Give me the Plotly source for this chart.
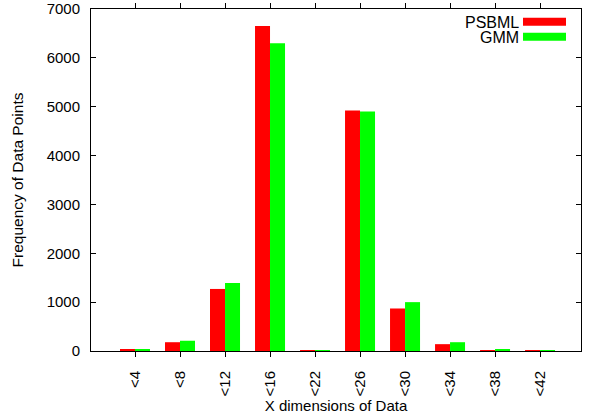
import plotly.graph_objects as go

categories = ["<4", "<8", "<12", "<16", "<22", "<26", "<30", "<34", "<38", "<42"]
psbml = [30, 180, 1270, 6650, 10, 4920, 870, 140, 20, 10]
gmm = [40, 210, 1390, 6300, 10, 4900, 1000, 180, 30, 10]
y_ticks = [0, 1000, 2000, 3000, 4000, 5000, 6000, 7000]

xpos = list(range(len(categories)))
FONT = "Liberation Sans"

fig = go.Figure()
fig.add_trace(go.Bar(x=xpos, y=psbml, name="PSBML", marker=dict(color="#ff0000", line=dict(width=0)), showlegend=False))
fig.add_trace(go.Bar(x=xpos, y=gmm, name="GMM", marker=dict(color="#00ff00", line=dict(width=0)), showlegend=False))

# Legend drawn gnuplot-style (text left, swatch right)
leg_items = [("PSBML", "#ff0000"), ("GMM", "#00ff00")]
for i, (name, col) in enumerate(leg_items):
    yc = 1 - (21.8 + 15 * i - 9) / 342.0
    fig.add_annotation(xref="paper", yref="paper", x=(521 - 91) / 490.0, y=yc, text=name,
                       showarrow=False, xanchor="right", yanchor="middle",
                       height=14, valign="middle",
                       font=dict(family=FONT, size=16, color="black"))
    fig.add_shape(type="rect", xref="paper", yref="paper",
                  x0=(523 - 91) / 490.0, x1=(566 - 91) / 490.0,
                  y0=yc - 4 / 342.0, y1=yc + 4 / 342.0,
                  fillcolor=col, line=dict(width=0))

fig.update_layout(
    width=592, height=419,
    margin=dict(l=91, r=11, t=9, b=68, autoexpand=False),
    paper_bgcolor="white", plot_bgcolor="white",
    barmode="group", bargap=1/3, bargroupgap=0,
    font=dict(family=FONT, size=15, color="black"),
    xaxis=dict(
        range=[-0.978, 9.91], tickmode="array", tickvals=xpos, ticktext=categories,
        tickangle=-90, ticks="outside", ticklen=5, tickcolor="black", tickwidth=1,
        showline=True, linecolor="black", linewidth=1, mirror="ticks",
        showgrid=False, zeroline=False, automargin=False,
        title=dict(text="X dimensions of Data", standoff=5,
                   font=dict(family=FONT, size=15, color="black")),
        ticklabelstandoff=8,
    ),
    yaxis=dict(
        range=[0, 7000], tickmode="array", tickvals=y_ticks,
        ticks="inside", ticklen=5, tickcolor="black", tickwidth=1,
        showline=True, linecolor="black", linewidth=1, mirror="ticks",
        showgrid=False, zeroline=False, automargin=False,
        title=dict(text="Frequency of Data Points", standoff=19,
                   font=dict(family=FONT, size=15.5, color="black")),
        ticklabelstandoff=7,
    ),
)

fig.write_html("out.html")
